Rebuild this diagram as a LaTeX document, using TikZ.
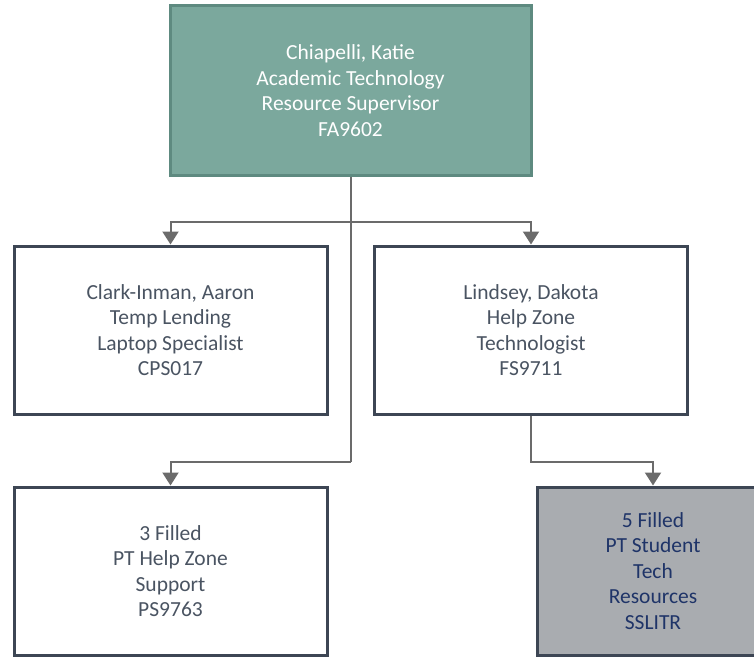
\documentclass[tikz,border=0pt]{standalone}
\usepackage{fontspec}
\setmainfont{Carlito}
\usepackage{tikz}
\usetikzlibrary{arrows.meta}
\definecolor{headfill}{HTML}{7BA89D}
\definecolor{headline}{HTML}{5E8A80}
\definecolor{boxline}{HTML}{3D4654}
\definecolor{boxtext}{HTML}{4A5462}
\definecolor{grayfill}{HTML}{A9ACB0}
\definecolor{navytext}{HTML}{1F3468}
\definecolor{connline}{HTML}{6B6B6B}

\begin{document}
\begin{tikzpicture}[x=1pt,y=-1pt,
	unit/.style={rectangle,draw=boxline,line width=3pt,fill=white,text=boxtext,align=center,
		font=\fontsize{21.5}{25.5}\selectfont,minimum width=313pt,minimum height=168pt,inner sep=0pt},
	head/.style={unit,fill=headfill,draw=headline,text=white,minimum width=361pt,minimum height=169pt},
	pool/.style={unit,fill=grayfill,text=navytext,minimum width=232pt},
	conn/.style={draw=connline,line width=2pt},
	arr/.style={conn,-{Triangle[width=16pt,length=13pt]}}]
	\useasboundingbox (0,0) rectangle (754,658);
	\node[head] (chief) at (350.5,90.5) {Chiapelli, Katie\\Academic Technology\\Resource Supervisor\\FA9602};
	\node[unit] (clark) at (170.5,330) {Clark-Inman, Aaron\\Temp Lending\\Laptop Specialist\\CPS017};
	\node[unit] (lindsey) at (531,330) {Lindsey, Dakota\\Help Zone\\Technologist\\FS9711};
	\node[unit] (helpzone) at (170.5,571) {3 Filled\\PT Help Zone\\Support\\PS9763};
	\node[pool] (students) at (653,571) {5 Filled\\PT Student\\Tech\\Resources\\SSLITR};
	% elbow points
	\coordinate (split) at (350.5,222);
	\coordinate (drop) at (350.5,462);
	\coordinate (side) at (531,462);
	\draw[conn] (chief.south) -- (drop);
	\draw[arr] (split) -| (clark.north);
	\draw[arr] (split) -| (lindsey.north);
	\draw[arr] (drop) -| (helpzone.north);
	\draw[arr] (lindsey.south) -- (side) -| (students.north);
\end{tikzpicture}
\end{document}
